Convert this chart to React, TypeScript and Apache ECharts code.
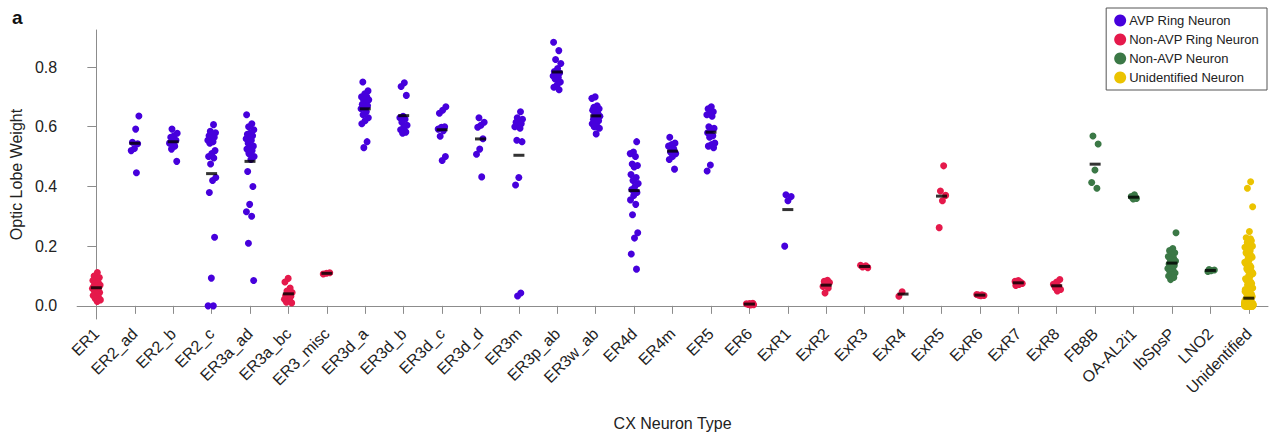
import React, { useEffect, useRef } from "react";
import * as echarts from "echarts";

const categories = [
  "ER1", "ER2_ad", "ER2_b", "ER2_c", "ER3a_ad", "ER3a_bc", "ER3_misc", "ER3d_a",
  "ER3d_b", "ER3d_c", "ER3d_d", "ER3m", "ER3p_ab", "ER3w_ab", "ER4d", "ER4m",
  "ER5", "ER6", "ExR1", "ExR2", "ExR3", "ExR4", "ExR5", "ExR6", "ExR7", "ExR8",
  "FB8B", "OA-AL2i1", "IbSpsP", "LNO2", "Unidentified",
];

const classNames = ["AVP Ring Neuron", "Non-AVP Ring Neuron", "Non-AVP Neuron", "Unidentified Neuron"];
const classColors = ["#4600dc", "#e5194b", "#3b7846", "#ebc300"];

// class index per category
const categoryClass = [
  1, 0, 0, 0, 0, 1, 1, 0,
  0, 0, 0, 0, 0, 0, 0, 0,
  0, 1, 0, 1, 1, 1, 1, 1, 1, 1,
  2, 2, 2, 2, 3,
];

const vER1 = [0.112, 0.1, 0.095, 0.09, 0.085, 0.08, 0.075, 0.07, 0.068, 0.065, 0.062, 0.06, 0.058, 0.055, 0.05, 0.045, 0.04, 0.035, 0.03, 0.025, 0.02, 0.015];
const vER2_ad = [0.636, 0.592, 0.548, 0.543, 0.527, 0.52, 0.446];
const vER2_b = [0.592, 0.578, 0.57, 0.565, 0.555, 0.548, 0.545, 0.535, 0.525, 0.484];
const vER2_c = [0.607, 0.585, 0.58, 0.575, 0.57, 0.565, 0.56, 0.555, 0.55, 0.545, 0.52, 0.51, 0.5, 0.495, 0.475, 0.43, 0.42, 0.38, 0.23, 0.093, 0.0, 0.0];
const vER3a_ad = [0.64, 0.61, 0.6, 0.59, 0.58, 0.575, 0.57, 0.565, 0.56, 0.555, 0.545, 0.535, 0.53, 0.525, 0.52, 0.51, 0.5, 0.49, 0.45, 0.4, 0.34, 0.315, 0.3, 0.21, 0.085];
const vER3a_bc = [0.092, 0.08, 0.06, 0.05, 0.045, 0.04, 0.035, 0.032, 0.028, 0.022, 0.018, 0.012, 0.01];
const vER3_misc = [0.111, 0.109, 0.107];
const vER3d_a = [0.75, 0.72, 0.71, 0.7, 0.7, 0.69, 0.69, 0.68, 0.675, 0.67, 0.665, 0.66, 0.65, 0.64, 0.63, 0.62, 0.61, 0.55, 0.53];
const vER3d_b = [0.747, 0.735, 0.705, 0.635, 0.63, 0.625, 0.615, 0.605, 0.598, 0.59, 0.582, 0.578];
const vER3d_c = [0.667, 0.655, 0.645, 0.6, 0.598, 0.592, 0.587, 0.568, 0.5, 0.487];
const vER3d_d = [0.63, 0.615, 0.605, 0.598, 0.56, 0.525, 0.508, 0.432];
const vER3m = [0.65, 0.63, 0.625, 0.62, 0.615, 0.61, 0.605, 0.6, 0.595, 0.555, 0.55, 0.43, 0.405, 0.043, 0.033];
const vER3p_ab = [0.883, 0.855, 0.825, 0.812, 0.795, 0.785, 0.78, 0.775, 0.77, 0.765, 0.76, 0.75, 0.74, 0.732, 0.724];
const vER3w_ab = [0.7, 0.695, 0.67, 0.665, 0.66, 0.655, 0.655, 0.645, 0.64, 0.635, 0.63, 0.625, 0.62, 0.615, 0.61, 0.6, 0.6, 0.595, 0.576];
const vER4d = [0.55, 0.515, 0.51, 0.5, 0.475, 0.47, 0.465, 0.44, 0.43, 0.42, 0.41, 0.4, 0.39, 0.38, 0.37, 0.355, 0.34, 0.305, 0.245, 0.227, 0.174, 0.123];
const vER4m = [0.565, 0.545, 0.54, 0.535, 0.525, 0.515, 0.51, 0.5, 0.49, 0.458];
const vER5 = [0.667, 0.66, 0.65, 0.645, 0.64, 0.635, 0.6, 0.595, 0.59, 0.58, 0.57, 0.565, 0.545, 0.54, 0.535, 0.53, 0.472, 0.452];
const vER6 = [0.009, 0.008, 0.007, 0.006, 0.005, 0.004, 0.003];
const vExR1 = [0.372, 0.366, 0.352, 0.2];
const vExR2 = [0.086, 0.082, 0.078, 0.072, 0.065, 0.06, 0.043];
const vExR3 = [0.136, 0.134, 0.13, 0.128];
const vExR4 = [0.047, 0.032];
const vExR5 = [0.469, 0.385, 0.37, 0.352, 0.262];
const vExR6 = [0.038, 0.037, 0.036, 0.035, 0.034];
const vExR7 = [0.085, 0.082, 0.08, 0.078, 0.075, 0.072, 0.068];
const vExR8 = [0.088, 0.08, 0.072, 0.065, 0.06, 0.055, 0.05];
const vFB8B = [0.569, 0.542, 0.455, 0.413, 0.394];
const vOA_AL2i1 = [0.372, 0.366, 0.36, 0.358];
const vIbSpsP = [0.245, 0.192, 0.185, 0.178, 0.17, 0.165, 0.16, 0.155, 0.15, 0.145, 0.14, 0.135, 0.13, 0.125, 0.12, 0.115, 0.11, 0.105, 0.1, 0.095, 0.088];
const vLNO2 = [0.122, 0.12, 0.118, 0.115];
const vUnidentified = [
  0.416, 0.394, 0.332, 0.249,
  0.228, 0.218, 0.207, 0.196, 0.185, 0.174, 0.163, 0.152, 0.141, 0.13, 0.119, 0.108, 0.097, 0.086, 0.075, 0.064, 0.055,
  0.225, 0.212, 0.2, 0.19, 0.178, 0.168, 0.157, 0.146, 0.135, 0.124, 0.113, 0.102, 0.091, 0.08, 0.07, 0.06, 0.05, 0.045, 0.039, 0.033,
  0.048, 0.042, 0.036, 0.031, 0.027, 0.023, 0.02, 0.017, 0.015, 0.013, 0.011, 0.01,
  0.009, 0.007, 0.004, 0.002, 0, 0.006, 0.003, 0.001, 0.005, 0.008,
  0.003, 0, 0.006, 0.002, 0.009, 0.004, 0.001, 0.007, 0, 0.005,
  0.001, 0.004, 0.008, 0, 0.003, 0.006, 0.002, 0.005, 0.001, 0.007,
  0.006, 0.002, 0, 0.004, 0.009, 0.001, 0.003, 0, 0.005, 0.002,
  0.004, 0.008, 0.001, 0.006, 0, 0.003, 0.007, 0.002, 0.004, 0,
  0.002, 0.005, 0.003, 0, 0.007, 0.001, 0.004, 0.006, 0.002, 0.008,
  0, 0.003, 0.006, 0.001, 0.004, 0.009, 0, 0.002, 0.005, 0.003,
  0.007, 0.001, 0.004, 0.002, 0, 0.005, 0.003, 0.008, 0.001, 0.006,
  0.003, 0.006, 0, 0.004, 0.002, 0.007, 0.001, 0.005, 0.003, 0,
  0.005, 0.002, 0.008, 0.001, 0.004, 0, 0.006, 0.003, 0.002, 0.004,
  0.001, 0.004, 0.002, 0.007, 0.003, 0.005, 0, 0.001, 0.006, 0.002,
  0.008, 0, 0.003, 0.005, 0.001, 0.004, 0.002, 0.006, 0, 0.003,
  0.002, 0.006, 0.004, 0, 0.005, 0.001, 0.007, 0.003, 0.004, 0.001,
  0.004, 0.001, 0.005, 0.003, 0.002, 0.006, 0, 0.004, 0.001, 0.005,
  0.006, 0.003, 0, 0.002, 0.008, 0.004, 0.001, 0.005, 0.002, 0.007,
  0.002, 0.009, 0.004, 0.001, 0, 0.006, 0.003, 0.002, 0.005, 0,
  0.005, 0, 0.002, 0.007, 0.003, 0.001, 0.004, 0.006, 0.002, 0.003,
  0.001, 0.004, 0.006, 0.003, 0.002, 0, 0.008, 0.001, 0.005, 0.004,
  0.007, 0.002, 0.001, 0.005, 0.004, 0.003, 0, 0.006, 0.002, 0.001,
  0.003, 0.005, 0.002, 0, 0.006, 0.004, 0.002, 0.001, 0.007, 0.003,
  0, 0.006, 0.003, 0.004, 0.001, 0.008, 0.002, 0.005, 0, 0.002,
  0.004, 0.001, 0.007, 0.002, 0.005, 0.003, 0.001, 0, 0.004, 0.006,
  0.002, 0.003, 0.005, 0.001, 0, 0.004, 0.006, 0.002, 0.003, 0.001,
];

const categoryValues = [
  vER1, vER2_ad, vER2_b, vER2_c, vER3a_ad, vER3a_bc, vER3_misc, vER3d_a,
  vER3d_b, vER3d_c, vER3d_d, vER3m, vER3p_ab, vER3w_ab, vER4d, vER4m,
  vER5, vER6, vExR1, vExR2, vExR3, vExR4, vExR5, vExR6, vExR7, vExR8,
  vFB8B, vOA_AL2i1, vIbSpsP, vLNO2, vUnidentified,
];

const yTicks = [0, 0.2, 0.4, 0.6, 0.8];

const FONT = "'Liberation Sans', Arial, Helvetica, sans-serif";

function jitter(i: number, j: number) {
  const f = ((j + 1) * 0.6180339887 + i * 0.37) % 1;
  return (f - 0.5) * 0.22;
}

export default function App() {
  const ref = useRef<HTMLDivElement>(null);

  useEffect(() => {
    if (!ref.current) return;
    const chart = echarts.init(ref.current, null, { renderer: "svg" });

    const pointSeries = classNames.map((name, c) => {
      const data: number[][] = [];
      categoryValues.forEach((vals, i) => {
        if (categoryClass[i] !== c) return;
        vals.forEach((v, j) => data.push([i + jitter(i, j), v]));
      });
      return {
        name,
        type: "scatter",
        xAxisIndex: 1,
        yAxisIndex: 0,
        symbol: "circle",
        symbolSize: 7,
        itemStyle: { color: classColors[c], opacity: 1 },
        data,
        z: 2,
        silent: true,
      };
    });

    const meanData = categoryValues.map((vals, i) => [
      i,
      vals.reduce((a, b) => a + b, 0) / vals.length,
    ]);

    const option = {
      animation: false,
      backgroundColor: "#ffffff",
      textStyle: { fontFamily: FONT },
      graphic: [
        {
          type: "text",
          left: 12,
          top: 8,
          style: { text: "a", fontSize: 19, fontWeight: "bold", fill: "#111", fontFamily: FONT },
        },
      ],
      legend: {
        data: classNames,
        orient: "vertical",
        right: 10,
        top: 8,
        padding: [6, 8, 6, 8],
        itemGap: 6,
        itemWidth: 12,
        itemHeight: 12,
        icon: "circle",
        borderColor: "#555",
        borderWidth: 1,
        backgroundColor: "#fff",
        textStyle: { fontSize: 13, color: "#222", fontFamily: FONT, padding: [0, 0, 0, -2] },
      },
      grid: { left: 76, right: 9, top: 30, bottom: 123, containLabel: false },
      xAxis: [
        {
          type: "category",
          data: categories,
          boundaryGap: true,
          name: "CX Neuron Type",
          nameLocation: "middle",
          nameGap: 96,
          nameTextStyle: { fontSize: 16, color: "#222", fontFamily: FONT },
          axisLine: { show: true, lineStyle: { color: "#8c8c8c", width: 1 } },
          axisTick: { show: true, alignWithLabel: true, length: 8, lineStyle: { color: "#8c8c8c" } },
          axisLabel: { interval: 0, rotate: 45, fontSize: 16, color: "#222", margin: 12, fontFamily: FONT },
          splitLine: { show: false },
        },
        {
          type: "value",
          min: -0.5,
          max: 30.5,
          show: false,
          splitLine: { show: false },
        },
      ],
      yAxis: [
        {
          type: "value",
          min: -0.044,
          max: 0.924,
          name: "Optic Lobe Weight",
          nameLocation: "middle",
          nameGap: 52,
          nameTextStyle: { fontSize: 16, color: "#222", fontFamily: FONT },
          axisLine: { show: true, lineStyle: { color: "#8c8c8c", width: 1 } },
          axisTick: { show: true, length: 9, customValues: yTicks, lineStyle: { color: "#8c8c8c" } },
          axisLabel: {
            fontSize: 16,
            color: "#222",
            margin: 20,
            customValues: yTicks,
            formatter: (v: number) => v.toFixed(1),
            fontFamily: FONT,
          },
          splitLine: { show: false },
        },
      ],
      series: [
        ...pointSeries,
        {
          name: "mean",
          type: "scatter",
          xAxisIndex: 1,
          yAxisIndex: 0,
          symbol: "rect",
          symbolSize: [11, 3],
          itemStyle: { color: "#000" },
          data: meanData,
          z: 5,
          silent: true,
        },
      ],
    };

    chart.setOption(option as any);
    return () => chart.dispose();
  }, []);

  return (
    <div
      ref={ref}
      style={{ position: "absolute", left: 0, top: 0, width: 1277, height: 442, background: "#fff" }}
    />
  );
}
